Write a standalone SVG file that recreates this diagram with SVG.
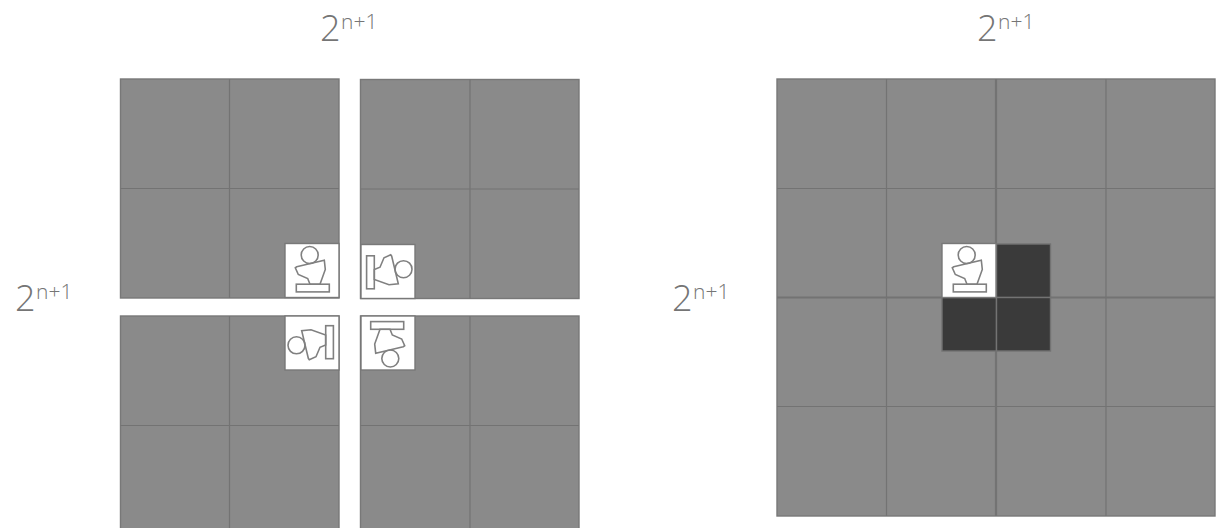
<svg xmlns="http://www.w3.org/2000/svg" width="1227" height="528" viewBox="0 0 1227 528">
<style>
.cell{fill:#8a8a8a;stroke:#787878;stroke-width:1.4}
.grid{fill:none;stroke:#737373;stroke-width:1.2}
.thick{fill:none;stroke:#737373;stroke-width:2.2}
.dark{fill:#3a3a3a;stroke:#737373;stroke-width:1.4}
.tile{fill:#ffffff;stroke:#787878;stroke-width:1.4}
.fig{fill:none;stroke:#808080;stroke-width:1.6}
text{font-family:"Open Sans","Noto Sans",sans-serif;font-weight:300;fill:#757575}
.b{font-size:36px}
.s{font-size:21px}
</style>
<defs>
<g id="figure">
<rect class="tile" x="0" y="0" width="54" height="54"/>
<circle class="fig" cx="24.7" cy="11.5" r="8.5"/>
<path class="fig" d="M11.700 23.300L39.300 16.700L40.300 26L35 40.700H25L22.700 35L13.300 31L10.300 24.300Z"/>
<rect class="fig" x="11.300" y="40.700" width="33" height="7.700"/>
</g>
<g id="quad">
<rect class="cell" x="0" y="0" width="218.500" height="219"/>
<path class="grid" d="M109 0V219M0 109.500H218.500"/>
</g>
<g id="quad-r">
<rect class="cell" x="0" y="0" width="218.500" height="219"/>
<path class="grid" d="M109.500 0V219M0 109.500H218.500"/>
</g>
</defs>
<g id="labels">
<text class="b" x="320" y="41">2</text><text class="s" x="341" y="28.500">n+1</text>
<text class="b" x="977" y="41">2</text><text class="s" x="998" y="28.500">n+1</text>
<text class="b" x="15" y="311">2</text><text class="s" x="36" y="298.500">n+1</text>
<text class="b" x="672" y="311">2</text><text class="s" x="693" y="298.500">n+1</text>
</g>
<g id="quad-top-left"><use href="#quad" x="120.500" y="79"/><use href="#figure" x="285" y="243.500"/></g>
<g id="quad-top-right"><use href="#quad-r" x="360.500" y="79.500"/><use href="#figure" transform="translate(415 244.500) rotate(90)"/></g>
<g id="quad-bottom-left"><use href="#quad" x="120.500" y="316"/><use href="#figure" transform="translate(285 370) rotate(-90)"/></g>
<g id="quad-bottom-right"><use href="#quad-r" x="360.500" y="316"/><use href="#figure" transform="translate(415 370) rotate(180)"/></g>
<g id="board">
<rect class="cell" x="777" y="79" width="438" height="437"/>
<path class="grid" d="M886.500 79V516M1106 79V516M777 188.500H1215M777 406.500H1215"/>
<path class="thick" d="M996 79V516M777 297.500H1215"/>
</g>
<g id="tromino">
<rect class="dark" x="996.500" y="244" width="54" height="53.500"/>
<rect class="dark" x="942" y="297.500" width="54.500" height="53.500"/>
<rect class="dark" x="996.500" y="297.500" width="54" height="53.500"/>
</g>
<g id="board-tile"><use href="#figure" x="942" y="243.500"/></g>
</svg>
